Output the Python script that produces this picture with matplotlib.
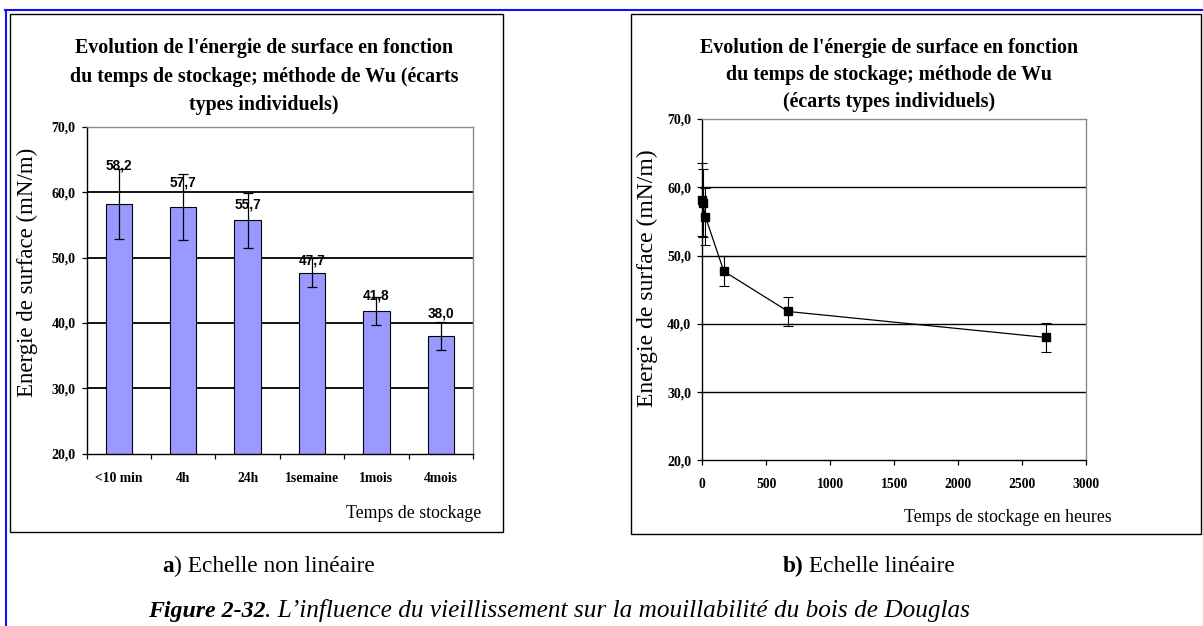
import numpy as np
import matplotlib
matplotlib.use('Agg')
import matplotlib.pyplot as plt
from matplotlib.patches import Rectangle
from matplotlib.lines import Line2D

plt.rcParams['font.family'] = ['Liberation Serif', 'DejaVu Serif']

# storage times and surface energy (mN/m) with individual standard deviations
categories = ['<10 min', '4h', '24h', '1semaine', '1mois', '4mois']
hours = [0.1, 4, 24, 168, 672, 2688]
energy = [58.2, 57.7, 55.7, 47.7, 41.8, 38.0]
std_dev = [5.3, 5.0, 4.2, 2.2, 2.1, 2.1]

y_ticks = [20, 30, 40, 50, 60, 70]
x_ticks_hours = [0, 500, 1000, 1500, 2000, 2500, 3000]

title_a = ["Evolution de l'énergie de surface en fonction",
           "du temps de stockage; méthode de Wu (écarts",
           "types individuels)"]
title_b = ["Evolution de l'énergie de surface en fonction",
           "du temps de stockage; méthode de Wu",
           "(écarts types individuels)"]

# vertical lift of each value label above its bar, in pixels
label_lift = [38, 24.5, 15.5, 12, 15.5, 22]

W, H = 1203, 626
fig = plt.figure(figsize=(W / 100, H / 100), dpi=100)


def fx(x):
    return x / W


def fy(y):
    return 1 - y / H


def axes_px(x0, y0, x1, y1):
    return fig.add_axes([fx(x0), fy(y1), (x1 - x0) / W, (y1 - y0) / H])


def comma(v, pos=None):
    return f"{v:.1f}".replace('.', ',')


def style_axes(ax, grid_lw):
    ax.set_ylim(y_ticks[0], y_ticks[-1])
    ax.set_yticks(y_ticks)
    ax.yaxis.set_major_formatter(plt.FuncFormatter(comma))
    for side in ('top', 'right'):
        ax.spines[side].set_color('#8c8c8c')
        ax.spines[side].set_linewidth(1.0)
    for side in ('left', 'bottom'):
        ax.spines[side].set_color('black')
        ax.spines[side].set_linewidth(1.0)
    ax.tick_params(axis='y', direction='out', length=3.5, width=0.9, pad=4.5,
                   labelsize=10)
    for lab in ax.get_yticklabels():
        lab.set_fontweight('bold')
    ax.hlines(y_ticks[1:-1], *ax.get_xlim(), colors='black', linewidth=grid_lw,
              zorder=0.5)


# panel frames
fig.add_artist(Rectangle((fx(10), fy(532)), (503 - 10) / W, (532 - 14) / H,
                         transform=fig.transFigure, fill=False,
                         edgecolor='black', linewidth=1.0))
fig.add_artist(Rectangle((fx(631), fy(533.5)), (1201 - 631) / W, (533.5 - 14) / H,
                         transform=fig.transFigure, fill=False,
                         edgecolor='black', linewidth=1.0))

# page border
fig.add_artist(Line2D([fx(5), fx(1203)], [fy(9.5), fy(9.5)],
                      transform=fig.transFigure, color='#1010ff', linewidth=1.5))
fig.add_artist(Line2D([fx(6), fx(6)], [fy(9.5), fy(626)],
                      transform=fig.transFigure, color='#1010ff', linewidth=1.5))

# ---- a) bar chart ----
ax1 = axes_px(86.7, 126.7, 473, 453.7)
x = np.arange(len(categories))
ax1.set_xlim(-0.5, len(categories) - 0.5)
ax1.bar(x, energy, width=0.41, color='#9999ff', edgecolor='black', linewidth=0.8,
        yerr=std_dev, capsize=3.5, zorder=2,
        error_kw=dict(elinewidth=0.9, capthick=0.9, ecolor='black', zorder=3))
style_axes(ax1, 1.3)
ax1.set_xticks(np.arange(-0.5, len(categories)))
ax1.set_xticklabels([])
ax1.set_xticks(x, minor=True)
ax1.set_xticklabels(categories, minor=True, fontweight='bold', fontsize=9.8)
ax1.tick_params(axis='x', which='major', direction='out', length=3.5, width=0.9)
ax1.tick_params(axis='x', which='minor', length=0, pad=13)

for i, (v, lift) in enumerate(zip(energy, label_lift)):
    ax1.annotate(comma(v), xy=(i, v), xytext=(0, lift * 0.72),
                 textcoords='offset points', ha='center', va='center',
                 fontfamily='Liberation Sans', fontweight='bold', fontsize=9.8,
                 zorder=4)

for k, line in enumerate(title_a):
    fig.text(fx(264), fy([48, 77, 105][k]), line, ha='center', va='center',
             fontsize=14.4, fontweight='bold')
fig.text(fx(27), fy(272.5), 'Energie de surface (mN/m)', rotation=90,
         ha='center', va='center', fontsize=16.5)
fig.text(fx(481.7), fy(513.3), 'Temps de stockage', ha='right', va='center',
         fontsize=12.8)

# ---- b) linear time scale ----
ax2 = axes_px(702.3, 119, 1086, 460.3)
ax2.set_xlim(x_ticks_hours[0], x_ticks_hours[-1])
style_axes(ax2, 1.0)
ax2.errorbar(hours, energy, yerr=std_dev, color='black', linewidth=0.9,
             marker='s', markersize=6, elinewidth=0.8, capsize=3.5,
             capthick=0.8, zorder=3, clip_on=False)
ax2.set_xticks(x_ticks_hours)
ax2.set_xticklabels([str(t) for t in x_ticks_hours], fontweight='bold',
                    fontsize=9.8)
ax2.tick_params(axis='x', direction='out', length=3.5, width=0.9, pad=9)

for k, line in enumerate(title_b):
    fig.text(fx(889), fy([48, 75, 102][k]), line, ha='center', va='center',
             fontsize=14.4, fontweight='bold')
fig.text(fx(647), fy(278), 'Energie de surface (mN/m)', rotation=90,
         ha='center', va='center', fontsize=17)
fig.text(fx(1111.7), fy(518), 'Temps de stockage en heures', ha='right',
         va='center', fontsize=12.8)

# ---- captions ----
cap = 16.8
ta = fig.text(fx(162.3), fy(566.7), 'a', ha='left', va='center',
              fontsize=cap, fontweight='bold')
fig.add_artist(plt.Annotation(') Echelle non linéaire', xy=(1, 0), xycoords=ta,
                              ha='left', va='bottom', fontsize=cap))
tb = fig.text(fx(782.7), fy(566.7), 'b)', ha='left', va='center',
              fontsize=cap, fontweight='bold')
fig.add_artist(plt.Annotation(' Echelle linéaire', xy=(1, 0), xycoords=tb,
                              ha='left', va='bottom', fontsize=cap))
tf = fig.text(fx(147.7), fy(611.7), 'Figure 2-32', ha='left', va='center',
              fontsize=17.2, fontweight='bold', fontstyle='italic')
fig.add_artist(plt.Annotation('. L\u2019influence du vieillissement sur la '
                              'mouillabilité du bois de Douglas',
                              xy=(1, 0), xycoords=tf, ha='left', va='bottom',
                              fontsize=18.2, fontstyle='italic'))

fig.savefig('out.png', dpi=100, facecolor='white')
